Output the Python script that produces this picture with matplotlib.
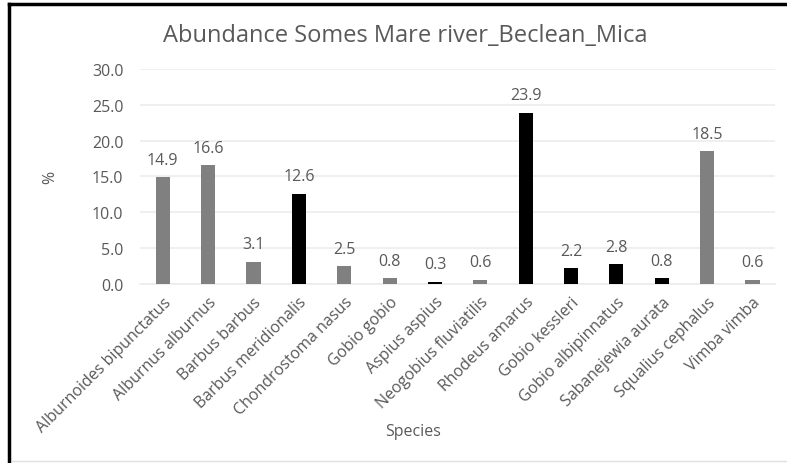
import matplotlib
matplotlib.use('Agg')
import matplotlib.pyplot as plt
from matplotlib.lines import Line2D

# data
species = ['Alburnoides bipunctatus', 'Alburnus alburnus', 'Barbus barbus',
           'Barbus meridionalis', 'Chondrostoma nasus', 'Gobio gobio',
           'Aspius aspius', 'Neogobius fluviatilis', 'Rhodeus amarus',
           'Gobio kessleri', 'Gobio albipinnatus', 'Sabanejewia aurata',
           'Squalius cephalus', 'Vimba vimba']
abundance = [14.9, 16.6, 3.1, 12.6, 2.5, 0.8, 0.3, 0.6, 23.9, 2.2, 2.8, 0.8, 18.5, 0.6]
protected = [False, False, False, True, False, False, True, False, True,
             True, True, True, False, False]

plt.rcParams['font.family'] = ['Open Sans', 'DejaVu Sans']
txt = '#595959'

fig = plt.figure(figsize=(7.87, 4.64), dpi=100)
ax = fig.add_axes([0.178, 0.386, 0.807, 0.463])

colors = ['#000000' if p else '#808080' for p in protected]
x = range(len(species))
bars = ax.bar(x, abundance, width=0.31, color=colors, zorder=3)
for b, v in zip(bars, abundance):
    ax.text(b.get_x() + b.get_width() / 2, v + 1.3, '%.1f' % v,
            ha='center', va='bottom', fontsize=11.5, color=txt)

ax.set_ylim(0, 30)
ax.set_xlim(-0.5, len(species) - 0.5)
ax.set_yticks([0, 5, 10, 15, 20, 25, 30])
ax.set_yticklabels(['%.1f' % t for t in [0, 5, 10, 15, 20, 25, 30]])
ax.yaxis.grid(True, color='#ececec', linewidth=1.2, zorder=0)
ax.set_xticks(list(x))
ax.set_xticklabels(species, rotation=45, ha='right', rotation_mode='anchor')
ax.tick_params(axis='both', length=0, labelsize=11.5, labelcolor=txt)
ax.tick_params(axis='y', pad=12)
ax.tick_params(axis='x', pad=7)
for s in ['top', 'right', 'left']:
    ax.spines[s].set_visible(False)
ax.spines['bottom'].set_color('#ececec')
ax.spines['bottom'].set_linewidth(1.2)

ax.set_ylabel('%', fontsize=11.5, color=txt, labelpad=24)
fig.text(0.525, 0.068, 'Species', ha='center', va='center', fontsize=11.5, color=txt)
fig.text(0.515, 0.922, 'Abundance Somes Mare river_Beclean_Mica', ha='center',
         va='center', fontsize=17, color=txt)

# black frame on top and left edge, thin gray at bottom
fig.add_artist(Line2D([9 / 787, 1], [1 - 5 / 464, 1 - 5 / 464], color='black',
                      linewidth=2.5, transform=fig.transFigure))
fig.add_artist(Line2D([9 / 787, 9 / 787], [0, 1 - 5 / 464], color='black',
                      linewidth=2.5, transform=fig.transFigure))
fig.add_artist(Line2D([12 / 787, 1], [2 / 464, 2 / 464], color='#e0e0e0',
                      linewidth=1, transform=fig.transFigure))

fig.savefig('out.png', dpi=100)
